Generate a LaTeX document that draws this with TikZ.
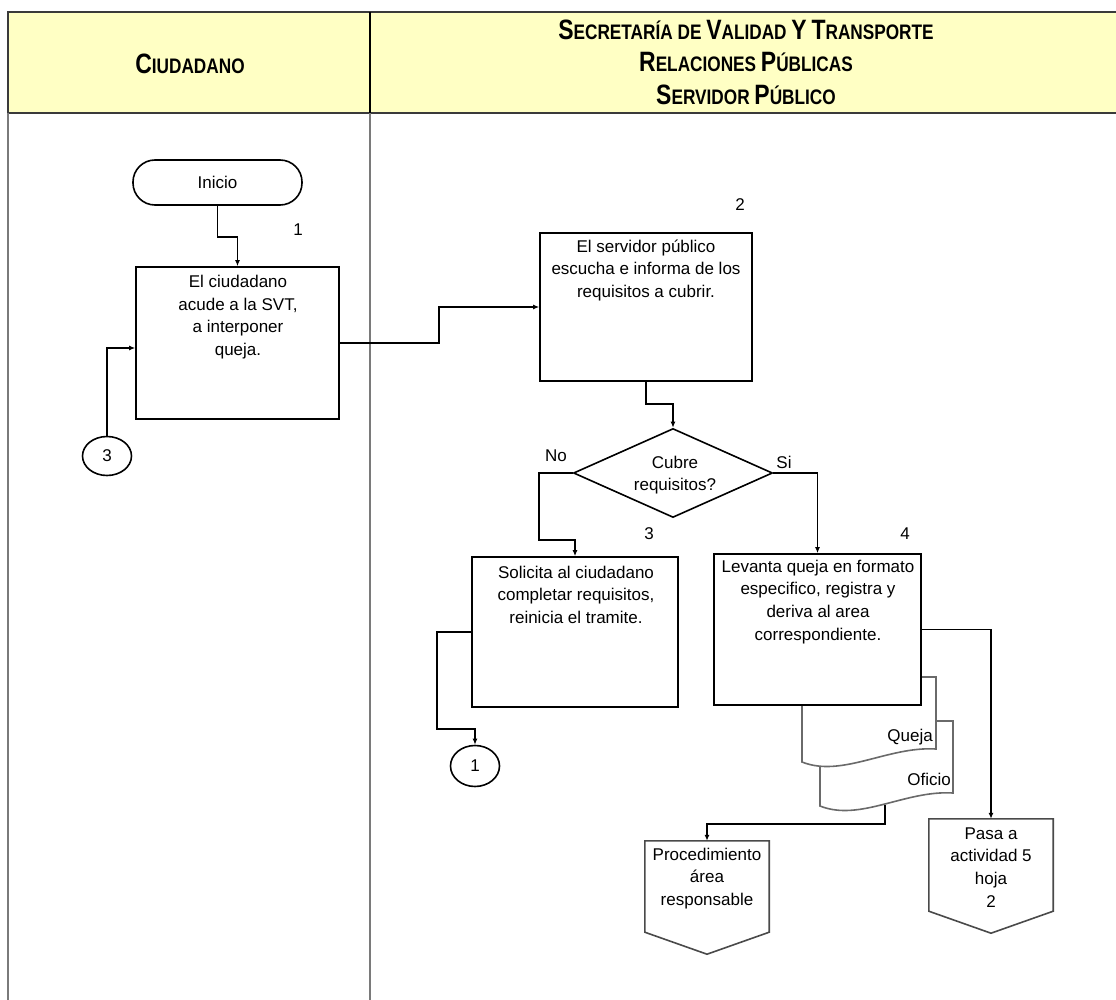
\documentclass[tikz,border=0pt]{standalone}
\usepackage{fontspec}
\setmainfont{Liberation Sans}
\newfontfamily\hdrfont[FakeStretch=0.82]{Liberation Sans}
\usetikzlibrary{arrows.meta,shapes.geometric,calc}

\definecolor{hdrfill}{HTML}{FFFFC4}
\definecolor{hdrline}{HTML}{3A3A3A}
\definecolor{lanegray}{HTML}{7A7A7A}
\definecolor{docgray}{HTML}{6A6A6A}
\definecolor{offgray}{HTML}{4A4A4A}

% header lettering: large initial, smaller capitals
\newcommand\hsc[2]{{\fontsize{28}{28}\selectfont #1}{\fontsize{21}{21}\selectfont #2}}

\tikzset{
  lane/.style={draw=lanegray, line width=2.5pt},
  stepbox/.style={draw, line width=1.6pt, fill=white, inner sep=0pt,
    font=\fontsize{17}{20}\selectfont},
  conn/.style={line width=1.6pt, -{Latex[length=6pt,width=5pt]}},
  body/.style={font=\fontsize{17}{22.7}\selectfont, align=center, inner sep=0pt, anchor=north},
  tag/.style={font=\fontsize{17}{20}\selectfont, inner sep=0pt, anchor=base},
  hdr/.style={font=\hdrfont\bfseries\fontsize{21}{21}\selectfont, inner sep=0pt, anchor=base},
  docline/.style={draw=docgray, line width=1.6pt, fill=white},
  offpage/.style={draw=offgray, line width=1.6pt, fill=white},
}

\begin{document}
\begin{tikzpicture}[x=1pt,y=-1pt]
\path[use as bounding box] (0,0) rectangle (1116,1000);

% header band
\fill[hdrfill] (8,12) rectangle (1116,113);
\draw[hdrline, line width=2.5pt] (1116,12) -- (8,12) -- (8,113) -- (1116,113);
\draw[black, line width=2pt] (370,12) -- (370,113);

% swimlane separators
\draw[lane] (8,113) -- (8,1000);
\draw[lane] (370,113) -- (370,1000);

% header titles
\node[hdr] (hc) at (190,74) {\hsc{C}{IUDADANO}};
\node[hdr] (h1) at (746,40) {\hsc{S}{ECRETARÍA} DE \hsc{V}{ALIDAD} \hsc{Y}{} \hsc{T}{RANSPORTE}};
\node[hdr] (h2) at (746,72) {\hsc{R}{ELACIONES} \hsc{P}{ÚBLICAS}};
\node[hdr] (h3) at (746,105) {\hsc{S}{ERVIDOR} \hsc{P}{ÚBLICO}};

% start and first activity
\node[stepbox, rounded corners=22pt, minimum width=169pt, minimum height=45pt] (ini) at (217.5,182.5) {Inicio};
\node[stepbox, minimum width=203pt, minimum height=152pt] (b1) at (237.5,343) {};
\node[body] (t1) at (238,271.5) {\strut El ciudadano\\acude a la SVT,\\a interponer\\queja.};
\node[tag] (n1) at (298,236) {1};
\node[stepbox, ellipse, minimum width=49pt, minimum height=39pt] (c3) at (107,456) {3};

% second activity and decision
\node[stepbox, minimum width=212pt, minimum height=148pt] (b2) at (646,307) {};
\node[body] (t2) at (646,236) {\strut El servidor público\\escucha e informa de los\\requisitos a cubrir.};
\node[tag] (n2) at (740,211) {2};
\node[stepbox, diamond, minimum width=199pt, minimum height=89pt] (dia) at (673,473) {};
\node[body] (td) at (675,452) {\strut Cubre\\requisitos?};
\node[tag] (no) at (556,461) {No};
\node[tag] (si) at (784,468) {Si};

% branch: requirements missing
\node[stepbox, minimum width=206pt, minimum height=150pt] (b3) at (575,632) {};
\node[body] (t3) at (576,562) {\strut Solicita al ciudadano\\completar requisitos,\\reinicia el tramite.};
\node[tag] (n3) at (649,539) {3};
\node[stepbox, ellipse, minimum width=49pt, minimum height=41pt] (c1) at (475,766) {1};

% documents produced by activity 4
\draw[docline] (820,721) -- (953,721) -- (953,793)
  .. controls (905,790) and (860,822) .. (820,806) -- cycle;
\draw[docline] (802,677) -- (936,677) -- (936,749)
  .. controls (888,746) and (842,778) .. (802,762) -- cycle;
\node[tag, anchor=base east] (dq) at (933,741) {Queja};
\node[tag, anchor=base east] (dof) at (951,785) {Oficio};
\coordinate (ofb) at (885,805);

% branch: requirements met
\node[stepbox, minimum width=207pt, minimum height=151pt] (b4) at (817.5,629.5) {};
\node[body] (t4) at (818,556) {\strut Levanta queja en formato\\especifico, registra y\\deriva al area\\correspondiente.};
\node[tag] (n4) at (905,539) {4};

% off-page connectors
\node[inner sep=0pt, minimum width=124pt, minimum height=114pt] (pasa) at (991,876) {};
\draw[offpage] (pasa.north west) -- (pasa.north east) -- ([yshift=22pt]pasa.south east)
  -- (pasa.south) -- ([yshift=22pt]pasa.south west) -- cycle;
\node[body] (tp) at (991,823) {\strut Pasa a\\actividad 5\\hoja\\2};

\node[inner sep=0pt, minimum width=124pt, minimum height=113pt] (proc) at (707,897.5) {};
\draw[offpage] (proc.north west) -- (proc.north east) -- ([yshift=22pt]proc.south east)
  -- (proc.south) -- ([yshift=22pt]proc.south west) -- cycle;
\node[body] (tpr) at (707,844) {\strut Procedimiento\\área\\responsable};

% connectors
\draw[conn] (ini.south) -- ++(0,31) -| (b1.north);
\draw[conn] (c3.north) |- ([yshift=-5pt]b1.west);
\draw[conn] (b1.east) -- ++(99,0) |- (b2.west);
\draw[conn] (b2.south) -- ++(0,22) -| (dia.north);
\draw[conn] (dia.west) -- ++(-34,0) -- ++(0,67) -| (b3.north);
\draw[conn] (dia.east) -| (b4.north);
\draw[conn] (b3.west) -- ++(-34,0) -- ++(0,97) -| (c1.north);
\draw[conn] (b4.east) -| (pasa.north);
\draw[conn] (ofb) -- ++(0,19) -| (proc.north);
\end{tikzpicture}
\end{document}
